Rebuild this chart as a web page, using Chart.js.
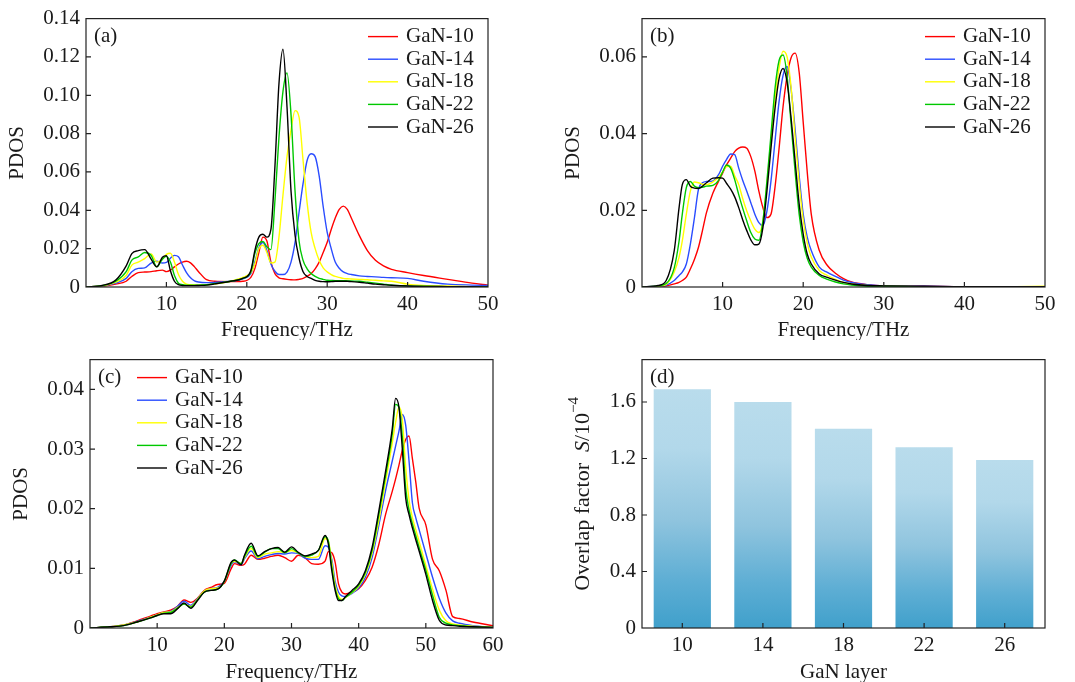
<!DOCTYPE html>
<html>
<head>
<meta charset="utf-8">
<script src="https://cdn.jsdelivr.net/npm/chart.js@4.4.0/dist/chart.umd.min.js"></script>
<style>
  body { margin: 0; background: #fff; }
  #wrap { position: relative; width: 1075px; height: 682px; overflow: hidden; }
  canvas { position: absolute; }
</style>
</head>
<body>
<div id="wrap">
  <canvas id="chartA" style="left:0px;top:0px" width="537" height="340"></canvas>
  <canvas id="chartB" style="left:556px;top:0px" width="519" height="340"></canvas>
  <canvas id="chartC" style="left:4px;top:341px" width="533" height="341"></canvas>
  <canvas id="chartD" style="left:556px;top:341px" width="519" height="341"></canvas>
</div>
<script>
// series names / colours shared by panels a-c
var seriesNames = ['GaN-10', 'GaN-14', 'GaN-18', 'GaN-22', 'GaN-26'];
var seriesColors = ['#ff0000', '#2a4cff', '#ffff00', '#00c800', '#000000'];

// ---- panel (a) ----
var aFreq = [0,2,3.7,5,5.7,6.5,7.3,8.1,8.8,9.5,10,10.5,11,11.5,12,12.5,13,13.5,14,15,16,18,19.5,20.5,21,21.5,22,22.5,23,23.5,24,24.5,25,25.5,26,26.5,27,27.5,28,28.5,29,29.5,30,30.5,31,31.5,32,32.5,33,34,35,36,37,38,40,42,45,48,50];
var aGaN10 = [0,0.0004,0.0015,0.003,0.0055,0.0075,0.0078,0.008,0.0085,0.0088,0.008,0.0088,0.0105,0.012,0.013,0.0134,0.0126,0.0105,0.008,0.0038,0.003,0.0028,0.003,0.005,0.0096,0.018,0.026,0.024,0.013,0.007,0.0048,0.0043,0.004,0.0038,0.0037,0.004,0.0045,0.0055,0.007,0.0095,0.013,0.018,0.0233,0.030,0.036,0.0405,0.0422,0.0405,0.036,0.0268,0.019,0.0139,0.011,0.0092,0.0075,0.006,0.004,0.002,0.001];
var aGaN14 = [0,0.0005,0.002,0.0045,0.008,0.0097,0.010,0.0125,0.0135,0.0125,0.0128,0.015,0.0165,0.0158,0.0115,0.0075,0.0048,0.0032,0.0026,0.0023,0.0024,0.003,0.0042,0.007,0.013,0.0205,0.0232,0.019,0.012,0.0082,0.0065,0.0065,0.0078,0.013,0.0233,0.039,0.054,0.066,0.0695,0.068,0.058,0.042,0.0285,0.020,0.013,0.0098,0.0079,0.007,0.0065,0.0058,0.0055,0.0053,0.005,0.0048,0.0045,0.003,0.0015,0.001,0.0008];
var aGaN18 = [0,0.0006,0.0025,0.006,0.0114,0.013,0.0148,0.0172,0.013,0.0145,0.017,0.0176,0.013,0.0065,0.003,0.0015,0.0012,0.0011,0.001,0.0012,0.0015,0.003,0.005,0.0075,0.012,0.02,0.0218,0.018,0.0125,0.013,0.026,0.048,0.068,0.082,0.092,0.0886,0.066,0.044,0.0285,0.02,0.0139,0.010,0.0079,0.0065,0.0055,0.005,0.0045,0.0043,0.0042,0.004,0.0038,0.0035,0.0032,0.003,0.0015,0.0008,0.0005,0.0002,0.0001];
var aGaN22 = [0,0.0007,0.003,0.008,0.014,0.0157,0.018,0.0165,0.0105,0.0145,0.016,0.013,0.006,0.002,0.0012,0.001,0.001,0.001,0.001,0.0012,0.0018,0.003,0.0045,0.008,0.0174,0.0226,0.0237,0.021,0.0195,0.045,0.078,0.102,0.1117,0.09,0.05,0.024,0.0139,0.0095,0.007,0.0055,0.0045,0.004,0.0035,0.0034,0.0033,0.0033,0.0033,0.0032,0.0031,0.003,0.0025,0.002,0.0015,0.001,0.0006,0.0004,0.0002,0.0001,0];
var aGaN26 = [0,0.0008,0.0036,0.011,0.0174,0.019,0.0195,0.0145,0.0105,0.0155,0.0163,0.0085,0.003,0.0012,0.0008,0.0007,0.0007,0.0007,0.0008,0.001,0.0016,0.003,0.0045,0.0085,0.019,0.026,0.0275,0.026,0.030,0.063,0.106,0.124,0.094,0.05,0.027,0.015,0.008,0.0055,0.0045,0.0035,0.003,0.0028,0.0027,0.0028,0.003,0.003,0.003,0.003,0.0028,0.0025,0.002,0.0015,0.0012,0.0009,0.0005,0.0003,0.0002,0.0001,0];
var aXTicks = [10, 20, 30, 40, 50];
var aYTicks = [0, 0.02, 0.04, 0.06, 0.08, 0.10, 0.12, 0.14];
var aYLabels = ['0', '0.02', '0.04', '0.06', '0.08', '0.10', '0.12', '0.14'];

// ---- panel (b) ----
var bFreq = [0,2,3,4,4.6,5,5.5,6,6.5,7,7.5,8,8.8,9.5,10,10.5,11,11.5,12,12.5,13,13.5,14,14.5,15,15.5,16,16.5,17,17.5,18,18.5,19,19.5,20,20.5,21,22,23,24,25,26,28,30,35,40,45,50];
var bGaN10 = [0,0.0001,0.0003,0.0008,0.0012,0.0017,0.0026,0.0047,0.0072,0.0103,0.0147,0.0194,0.0245,0.0276,0.0297,0.0319,0.0336,0.0353,0.0362,0.0365,0.0362,0.034,0.0302,0.025,0.0207,0.0181,0.019,0.026,0.036,0.047,0.055,0.0598,0.061,0.056,0.043,0.030,0.019,0.0095,0.0056,0.0036,0.0022,0.0013,0.0006,0.0003,0.0002,0.0001,0.0001,0.0001];
var bGaN14 = [0,0.0002,0.0005,0.0017,0.003,0.0039,0.006,0.0112,0.018,0.0254,0.0272,0.0275,0.0277,0.0293,0.0315,0.0333,0.0347,0.0345,0.031,0.0278,0.025,0.022,0.019,0.0168,0.016,0.0198,0.0276,0.038,0.0483,0.0552,0.0575,0.0515,0.041,0.029,0.019,0.013,0.0095,0.0052,0.0038,0.0028,0.0018,0.0012,0.0006,0.0003,0.0002,0.0001,0.0001,0.0001];
var bGaN18 = [0,0.0002,0.0007,0.0039,0.0078,0.012,0.019,0.025,0.0274,0.0272,0.0268,0.0267,0.0274,0.0286,0.030,0.0314,0.0315,0.029,0.0267,0.023,0.0198,0.0172,0.0151,0.0142,0.0172,0.0267,0.038,0.049,0.057,0.0615,0.060,0.052,0.039,0.027,0.0175,0.0115,0.0078,0.0043,0.003,0.002,0.0012,0.0008,0.0004,0.0002,0.0001,0.0001,0.0001,0.0002];
var bGaN22 = [0,0.0003,0.0009,0.005,0.012,0.019,0.0259,0.0275,0.0263,0.0259,0.026,0.0263,0.0265,0.0278,0.030,0.0318,0.031,0.028,0.0241,0.0205,0.0172,0.0142,0.0125,0.0122,0.0172,0.0276,0.0397,0.0517,0.059,0.0605,0.055,0.0425,0.030,0.019,0.0118,0.0075,0.0052,0.003,0.002,0.0013,0.0008,0.0005,0.0002,0.0002,0.0001,0.0001,0.0001,0.0001];
var bGaN26 = [0,0.0004,0.0017,0.0095,0.0207,0.0267,0.028,0.0263,0.0258,0.0257,0.0263,0.0272,0.0284,0.0285,0.0284,0.027,0.0255,0.0235,0.0207,0.0175,0.0147,0.0123,0.011,0.0112,0.0155,0.025,0.0362,0.0465,0.0543,0.057,0.0534,0.044,0.0328,0.0216,0.0138,0.0086,0.006,0.0034,0.0025,0.0018,0.0012,0.0008,0.0004,0.0003,0.0002,0.0001,0.0001,0.0001];
var bXTicks = [10, 20, 30, 40, 50];
var bYTicks = [0, 0.02, 0.04, 0.06];
var bYLabels = ['0', '0.02', '0.04', '0.06'];

// ---- panel (c) ----
var cFreq = [0,3,5,7,9,10,11,12,13,14,15,16,17,18,19,20,21,21.5,22.5,23,24,25,26,27,28,29,30,31,32,33,34,35,35.5,36,36.5,37,37.5,38,39,40,41,42,43,44,45,45.5,46,46.5,47,47.5,48,48.5,49,50,51,52,53,54,55,57,60];
var cGaN10 = [0,0.0002,0.0005,0.0012,0.002,0.0024,0.0027,0.003,0.0036,0.0047,0.0043,0.005,0.0063,0.0068,0.0073,0.0075,0.0099,0.0108,0.0105,0.0107,0.0122,0.0115,0.0117,0.012,0.0122,0.0118,0.0112,0.0122,0.0118,0.0108,0.0107,0.0112,0.0128,0.0126,0.011,0.0074,0.006,0.0057,0.006,0.0066,0.008,0.0102,0.014,0.019,0.0229,0.025,0.0273,0.0298,0.0316,0.0322,0.0284,0.0245,0.0201,0.0173,0.0115,0.0096,0.0063,0.0019,0.0016,0.001,0.0004];
var cGaN14 = [0,0.0002,0.0005,0.0011,0.0018,0.0022,0.0026,0.0028,0.0036,0.0045,0.0038,0.0049,0.0062,0.0066,0.0068,0.0078,0.0105,0.0111,0.0106,0.0116,0.0129,0.0116,0.012,0.0123,0.0125,0.0124,0.0126,0.0125,0.0117,0.0115,0.0115,0.0138,0.0135,0.0115,0.0078,0.006,0.0054,0.0053,0.0058,0.0067,0.0085,0.0118,0.0172,0.023,0.028,0.0305,0.033,0.0358,0.034,0.028,0.021,0.0185,0.0165,0.0125,0.0085,0.005,0.0025,0.0012,0.0008,0.0004,0.0001];
var cGaN18 = [0,0.0002,0.0005,0.001,0.0018,0.0022,0.0026,0.0027,0.0034,0.004,0.0036,0.0048,0.0062,0.0066,0.0067,0.0078,0.0108,0.0112,0.0108,0.0118,0.0133,0.0118,0.0124,0.0126,0.0128,0.0127,0.013,0.0126,0.012,0.0118,0.012,0.015,0.0145,0.011,0.0072,0.0053,0.0048,0.0051,0.0059,0.007,0.009,0.0125,0.018,0.0245,0.031,0.0345,0.037,0.035,0.027,0.0215,0.0185,0.0165,0.0145,0.0105,0.0065,0.003,0.0012,0.0007,0.0005,0.0003,0.0001];
var cGaN22 = [0,0.0002,0.0004,0.001,0.0017,0.0021,0.0025,0.0026,0.0033,0.004,0.0035,0.0047,0.006,0.0063,0.0065,0.0078,0.0108,0.0114,0.0108,0.012,0.0137,0.012,0.0127,0.0133,0.0133,0.0126,0.0133,0.0126,0.012,0.0122,0.013,0.0153,0.0145,0.0102,0.0066,0.0049,0.0046,0.0051,0.006,0.0072,0.0093,0.013,0.019,0.0255,0.0325,0.0375,0.037,0.032,0.0235,0.0198,0.0175,0.0155,0.0135,0.0097,0.0055,0.0018,0.0008,0.0005,0.0004,0.0002,0.0001];
var cGaN26 = [0,0.0002,0.0004,0.001,0.0017,0.0021,0.0024,0.0024,0.0032,0.0042,0.0033,0.0046,0.006,0.0063,0.0065,0.0079,0.011,0.0114,0.0106,0.0122,0.0142,0.0121,0.0128,0.0133,0.0135,0.0127,0.0136,0.0127,0.0121,0.0124,0.013,0.0155,0.014,0.0096,0.0063,0.0046,0.0046,0.0052,0.0063,0.0074,0.0096,0.0135,0.0196,0.0262,0.0334,0.0385,0.037,0.030,0.0218,0.019,0.0168,0.0148,0.0129,0.009,0.0046,0.0013,0.0005,0.0004,0.0003,0.0002,0.0001];
var cXTicks = [10, 20, 30, 40, 50, 60];
var cYTicks = [0, 0.01, 0.02, 0.03, 0.04];
var cYLabels = ['0', '0.01', '0.02', '0.03', '0.04'];

// ---- panel (d) ----
var dLayers = ['10', '14', '18', '22', '26'];
var dOverlap = [1.69, 1.60, 1.41, 1.28, 1.19];
var dYTicks = [0, 0.4, 0.8, 1.2, 1.6];
var dYLabels = ['0', '0.4', '0.8', '1.2', '1.6'];

var serif = '"Liberation Serif", "DejaVu Serif", serif';
var textColor = '#1a1a1a';
var fontPx = 21;
Chart.defaults.font.family = serif;
Chart.defaults.font.size = fontPx;
Chart.defaults.color = textColor;

// frame, inward ticks, panel tag and legend
var panelFrame = {
    id: 'panelFrame',
    afterDatasetsDraw: function (chart, args, opts) {
        var ctx = chart.ctx;
        var a = chart.chartArea;
        var xs = chart.scales.x, ys = chart.scales.y;
        ctx.save();
        ctx.strokeStyle = '#222';
        ctx.lineWidth = 1.2;
        ctx.strokeRect(a.left, a.top, a.right - a.left, a.bottom - a.top);
        ctx.beginPath();
        xs.ticks.forEach(function (t, i) {
            var px = xs.getPixelForTick(i);
            if (px > a.left + 1 && px < a.right - 1) {
                ctx.moveTo(px, a.bottom);
                ctx.lineTo(px, a.bottom - 5);
            }
        });
        ys.ticks.forEach(function (t, i) {
            var py = ys.getPixelForTick(i);
            if (py > a.top + 1 && py < a.bottom - 1) {
                ctx.moveTo(a.left, py);
                ctx.lineTo(a.left + 5, py);
            }
        });
        ctx.stroke();

        ctx.fillStyle = textColor;
        ctx.font = fontPx + 'px ' + serif;
        ctx.textBaseline = 'middle';
        ctx.textAlign = 'left';
        ctx.fillText(opts.tag, a.left + 8, a.top + 18);

        if (opts.legend) {
            var x0 = opts.legend === 'right' ? a.right - 120 : a.left + 47;
            chart.data.datasets.forEach(function (ds, i) {
                var y = a.top + 18 + i * 22.6;
                ctx.strokeStyle = ds.borderColor;
                ctx.lineWidth = 1.4;
                ctx.beginPath();
                ctx.moveTo(x0, y);
                ctx.lineTo(x0 + 30, y);
                ctx.stroke();
                ctx.fillStyle = textColor;
                ctx.fillText(ds.label, x0 + 38, y);
            });
        }

        if (opts.yTitle) {
            var cy = (a.top + a.bottom) / 2;
            var parts = [
                ['Overlap factor  ', '22px ' + serif, 0],
                ['S', 'italic 22px ' + serif, 0],
                ['/10', '22px ' + serif, 0],
                ['\u22124', '15px ' + serif, -9]
            ];
            var total = 0;
            parts.forEach(function (p) { ctx.font = p[1]; total += ctx.measureText(p[0]).width; });
            ctx.translate(opts.yTitleX, cy);
            ctx.rotate(-Math.PI / 2);
            var x = -total / 2;
            parts.forEach(function (p) {
                ctx.font = p[1];
                ctx.fillText(p[0], x, p[2]);
                x += ctx.measureText(p[0]).width;
            });
        }
        ctx.restore();
    }
};

function lineSets(freq, series) {
    return series.map(function (vals, i) {
        return {
            label: seriesNames[i],
            data: freq.map(function (f, k) { return { x: f, y: vals[k] }; }),
            borderColor: seriesColors[i],
            backgroundColor: seriesColors[i],
            borderWidth: 1.4,
            pointRadius: 0,
            fill: false,
            cubicInterpolationMode: 'monotone',
            order: series.length - i
        };
    });
}

function fixedTicks(list) {
    return function (scale) {
        scale.ticks = list.map(function (v) { return { value: v }; });
    };
}

function pdosChart(id, freq, series, xMax, xTicks, yMax, yTicks, yLabels, pad, axisH, tag, legendSide) {
    return new Chart(document.getElementById(id), {
        type: 'line',
        data: { datasets: lineSets(freq, series) },
        options: {
            responsive: false,
            animation: false,
            devicePixelRatio: 1,
            layout: { padding: pad },
            plugins: {
                legend: { display: false },
                tooltip: { enabled: false },
                panelFrame: { tag: tag, legend: legendSide }
            },
            scales: {
                x: {
                    type: 'linear',
                    min: 0,
                    max: xMax,
                    afterBuildTicks: fixedTicks(xTicks),
                    afterFit: function (s) { s.height = axisH; },
                    grid: { display: false, drawTicks: false },
                    border: { display: false },
                    ticks: { padding: 5, maxRotation: 0, callback: function (v) { return String(v); } },
                    title: { display: true, text: 'Frequency/THz', padding: { top: 0, bottom: -3 } }
                },
                y: {
                    min: 0,
                    max: yMax,
                    afterBuildTicks: fixedTicks(yTicks),
                    afterFit: function (s) { s.width = 86; },
                    grid: { display: false, drawTicks: false },
                    border: { display: false },
                    ticks: { padding: 6, callback: function (v, i) { return yLabels[i]; } },
                    title: { display: true, text: 'PDOS', padding: { top: 5, bottom: 0 } }
                }
            }
        },
        plugins: [panelFrame]
    });
}

pdosChart('chartA', aFreq, [aGaN10, aGaN14, aGaN18, aGaN22, aGaN26], 50, aXTicks, 0.14, aYTicks, aYLabels,
    { top: 15, right: 49, left: 0, bottom: 0 }, 53, '(a)', 'right');
pdosChart('chartB', bFreq, [bGaN10, bGaN14, bGaN18, bGaN22, bGaN26], 50, bXTicks, 0.07, bYTicks, bYLabels,
    { top: 15, right: 30, left: 0, bottom: 0 }, 53, '(b)', 'right');
pdosChart('chartC', cFreq, [cGaN10, cGaN14, cGaN18, cGaN22, cGaN26], 60, cXTicks, 0.045, cYTicks, cYLabels,
    { top: 15, right: 44, left: 0, bottom: 0 }, 54, '(c)', 'left');

// bar panel, each bar shaded light at the top to deeper blue at the base
function barShade(c) {
    var chart = c.chart;
    if (!chart.chartArea || c.type !== 'data') return '#8cc3de';
    var ys = chart.scales.y;
    var top = ys.getPixelForValue(c.parsed.y);
    var base = ys.getPixelForValue(0);
    var g = chart.ctx.createLinearGradient(0, top, 0, base);
    g.addColorStop(0, '#b9dcec');
    g.addColorStop(0.25, '#b2d8ea');
    g.addColorStop(0.55, '#8fc4de');
    g.addColorStop(0.8, '#5eaed4');
    g.addColorStop(1, '#40a0cb');
    return g;
}

new Chart(document.getElementById('chartD'), {
    type: 'bar',
    data: {
        labels: dLayers,
        datasets: [{
            label: 'Overlap factor',
            data: dOverlap,
            backgroundColor: barShade,
            borderWidth: 0,
            barPercentage: 0.71,
            categoryPercentage: 1.0
        }]
    },
    options: {
        responsive: false,
        animation: false,
        devicePixelRatio: 1,
        layout: { padding: { top: 15, right: 30, left: 0, bottom: 0 } },
        plugins: {
            legend: { display: false },
            tooltip: { enabled: false },
            panelFrame: { tag: '(d)', yTitle: true, yTitleX: 27 }
        },
        scales: {
            x: {
                afterFit: function (s) { s.height = 54; },
                grid: { display: false, drawTicks: false },
                border: { display: false },
                ticks: { padding: 5, maxRotation: 0 },
                title: { display: true, text: 'GaN layer', padding: { top: 0, bottom: -3 } }
            },
            y: {
                min: 0,
                max: 1.9,
                afterBuildTicks: fixedTicks(dYTicks),
                afterFit: function (s) { s.width = 86; },
                grid: { display: false, drawTicks: false },
                border: { display: false },
                ticks: { padding: 6, callback: function (v, i) { return dYLabels[i]; } },
                title: { display: false }
            }
        }
    },
    plugins: [panelFrame]
});
</script>
</body>
</html>
